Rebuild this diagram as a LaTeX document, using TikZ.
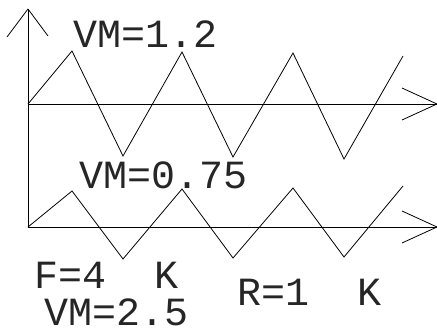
\documentclass[tikz,border=0pt]{standalone}
\usepackage{fontspec}
\setmonofont{Liberation Mono}
\tikzset{
  vmtext/.style={font=\ttfamily\fontsize{40}{40}\selectfont, anchor=base, inner sep=0pt, text depth=0pt, text=black!85},
}
\begin{document}
\begin{tikzpicture}[x=1pt, y=-1pt, line width=0.8pt]
    \useasboundingbox (0,0) rectangle (437,329);
    % axes
    \coordinate (top) at (28,9);
    \coordinate (O1) at (28,104);
    \coordinate (O2) at (28,227);
    \coordinate (end1) at (437,104);
    \coordinate (end2) at (437,227);
    \draw (O2) -- (top);
    \draw (top) -- ++(-21,28) (top) -- ++(20,27);
    \draw (O1) -- (end1);
    \draw (end1) -- ++(-35,-16) (end1) -- ++(-35,16);
    \draw (O2) -- (end2);
    \draw (end2) -- ++(-35,-16) (end2) -- ++(-35,16);
    % upper wave
    \draw (O1) -- (72,51) -- (123,156) -- (182,52) -- (233,157) -- (293,53) -- (344,159) -- (403,56);
    % lower wave
    \draw (O2) -- (72,191) -- (123,259) -- (182,189) -- (233,258) -- (293,188) -- (344,257) -- (403,186);
    % labels
    \node[vmtext] (vm1) at (146,48) {VM=1.2};
    \node[vmtext] (vm2) at (164,189) {VM=0.75};
    \node[vmtext] (freq) at (107,288) {F=4~~K};
    \node[vmtext] (vm3) at (117,325) {VM=2.5};
    \node[vmtext] (res) at (310,305) {R=1~~K};
\end{tikzpicture}
\end{document}
